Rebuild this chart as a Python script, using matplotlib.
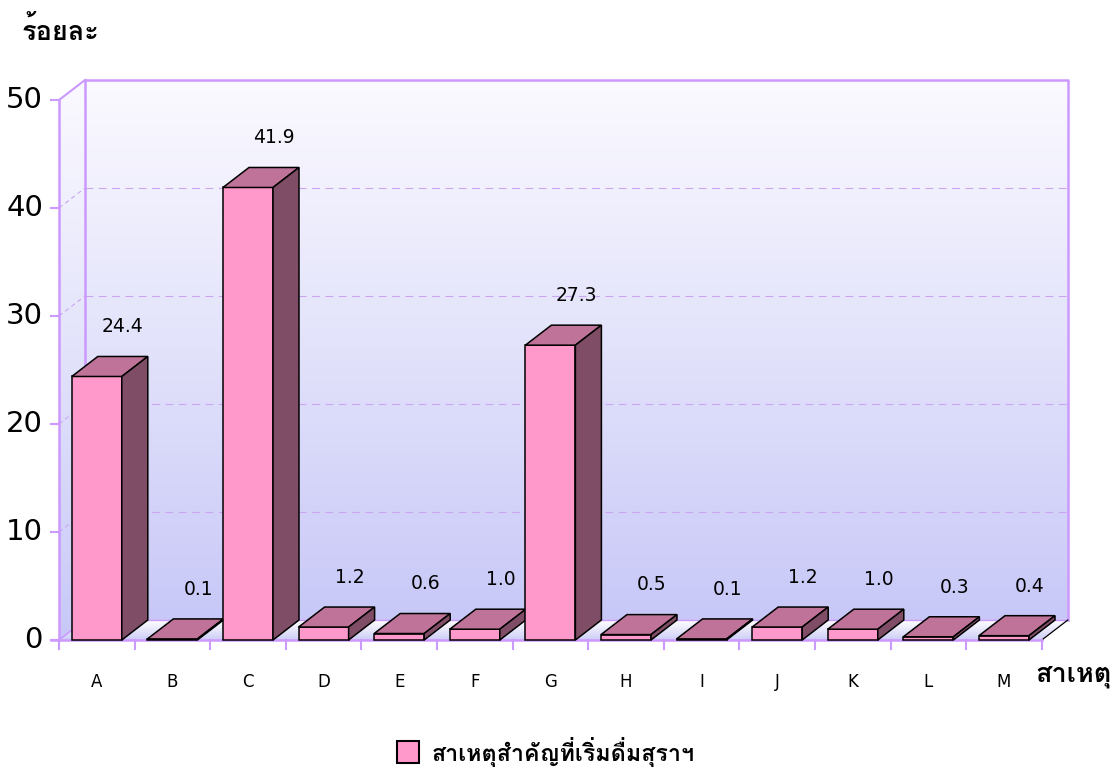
import matplotlib
matplotlib.use("Agg")
import matplotlib.pyplot as plt
from matplotlib import font_manager
from matplotlib.patches import Polygon, Rectangle
from matplotlib.colors import LinearSegmentedColormap
import numpy as np

# data
categories = ["A", "B", "C", "D", "E", "F", "G", "H", "I", "J", "K", "L", "M"]
values = [24.4, 0.1, 41.9, 1.2, 0.6, 1.0, 27.3, 0.5, 0.1, 1.2, 1.0, 0.3, 0.4]
y_ticks = [0, 10, 20, 30, 40, 50]
y_title = "ร้อยละ"
x_title = "สาเหตุ"
series_name = "สาเหตุสำคัญที่เริ่มดื่มสุราฯ"

# thai font (Loma keeps tone marks above the upper vowels without shaping)
names = {f.name for f in font_manager.fontManager.ttflist}
thai = "DejaVu Sans"
for n in ["Loma", "Sarabun", "Noto Sans Thai"]:
    if n in names:
        thai = n
        break
thai_family = [thai, "DejaVu Sans"]

# geometry (pixels of the 1118x773 picture)
W_PX, H_PX = 1118, 773
X0_PX, Y0_PX = 59, 640        # left end of front x axis, zero line
PX_X, PX_Y = 75.6, 10.8       # pixels per category / per percent
DX = 26 / PX_X                # depth offset in data units
DY = 20 / PX_Y
BAR_W = 50 / PX_X

front = "#ff99cc"
top_c = "#bf7399"
side_c = "#804d66"
wall_edge = "#cc99ff"
grid_c = "#c9a6f2"

fig = plt.figure(figsize=(W_PX / 100, H_PX / 100), dpi=100)
ax = fig.add_axes([0, 0, 1, 1])
xmin = -0.5 - X0_PX / PX_X
xmax = -0.5 + (W_PX - X0_PX) / PX_X
ymin = (Y0_PX - H_PX) / PX_Y
ymax = Y0_PX / PX_Y

n = len(categories)
left, right = -0.5, n - 0.5
ytop = y_ticks[-1]

wall_cmap = LinearSegmentedColormap.from_list("wall", ["#c8c8f8", "#e2e2fb", "#fbfaff"])
floor_cmap = LinearSegmentedColormap.from_list("floor", ["#cdcdf7", "#ffffff"])
grad = np.linspace(0, 1, 256).reshape(-1, 1)

# back wall
back = Polygon([(left + DX, DY), (right + DX, DY), (right + DX, ytop + DY), (left + DX, ytop + DY)],
               closed=True, facecolor="none", edgecolor="none")
ax.add_patch(back)
im = ax.imshow(grad, cmap=wall_cmap, extent=(left + DX, right + DX, DY, ytop + DY),
               origin="lower", aspect="auto", zorder=0)
im.set_clip_path(back)

# side wall
side = Polygon([(left, 0), (left + DX, DY), (left + DX, ytop + DY), (left, ytop)],
               closed=True, facecolor="none", edgecolor="none")
ax.add_patch(side)
im = ax.imshow(grad, cmap=wall_cmap, extent=(left, left + DX, 0, ytop + DY),
               origin="lower", aspect="auto", zorder=0)
im.set_clip_path(side)

# floor: white at the back, lavender at the front
floor = Polygon([(left, 0), (right, 0), (right + DX, DY), (left + DX, DY)],
                closed=True, facecolor="none", edgecolor="none")
ax.add_patch(floor)
im = ax.imshow(grad, cmap=floor_cmap, extent=(left, right + DX, 0, DY),
               origin="lower", aspect="auto", zorder=0)
im.set_clip_path(floor)

# grid lines on back and side wall
for t in y_ticks[1:-1]:
    ax.plot([left + DX, right + DX], [t + DY, t + DY], color=grid_c, lw=0.8,
            dashes=(7, 5), zorder=1)
    ax.plot([left, left + DX], [t, t + DY], color=grid_c, lw=0.8, dashes=(4, 3), zorder=1)

# wall outlines
ax.plot([left + DX, right + DX, right + DX], [ytop + DY, ytop + DY, DY], color=wall_edge, lw=1.8, zorder=1)
ax.plot([left + DX, left + DX], [DY, ytop + DY], color=wall_edge, lw=1.8, zorder=1)
ax.plot([left + DX, right + DX], [DY, DY], color=wall_edge, lw=1.0, zorder=1)
ax.plot([left, left + DX], [ytop, ytop + DY], color=wall_edge, lw=1.5, zorder=1)
ax.plot([left, left + DX], [0, DY], color=wall_edge, lw=1.2, zorder=1)
ax.plot([left, left], [0, ytop], color=wall_edge, lw=1.8, zorder=1)
ax.plot([left - 8 / PX_X, right], [0, 0], color=wall_edge, lw=1.8, zorder=1)
ax.plot([right, right + DX], [0, DY], color="black", lw=0.9, zorder=1)

# ticks
for t in y_ticks:
    ax.plot([left - 8 / PX_X, left], [t, t], color=wall_edge, lw=1.5, zorder=1)
    ax.text(left - 16 / PX_X, t, str(t), ha="right", va="center", fontsize=21)
for k in range(n + 1):
    ax.plot([left + k, left + k], [0, -9 / PX_Y], color=wall_edge, lw=1.5, zorder=1)

# bars
x = np.arange(n)
for i, v in enumerate(values):
    z = 3 + i * 0.01
    ax.bar(x[i], v, width=BAR_W, color=front, edgecolor="black", linewidth=1.1, zorder=z)
    xl, xr = x[i] - BAR_W / 2, x[i] + BAR_W / 2
    ax.add_patch(Polygon([(xl, v), (xr, v), (xr + DX, v + DY), (xl + DX, v + DY)], closed=True,
                         facecolor=top_c, edgecolor="black", linewidth=1.1, zorder=z))
    ax.add_patch(Polygon([(xr, 0), (xr + DX, DY), (xr + DX, v + DY), (xr, v)], closed=True,
                         facecolor=side_c, edgecolor="black", linewidth=1.1, zorder=z))
    ax.text(x[i] + DX, v + 4.6, f"{v:.1f}", ha="center", va="center", fontsize=13.5, zorder=5)
    ax.text(x[i], -42 / PX_Y, categories[i], ha="center", va="center", fontsize=12)

# titles
ax.text(xmin + 22 / PX_X, ymax - 31 / PX_Y, y_title, ha="left", va="center",
        fontsize=19.5, fontweight="bold", family=thai_family)
ax.text(xmin + 1035 / PX_X, ymax - 676 / PX_Y, x_title, ha="left", va="center",
        fontsize=19.5, fontweight="bold", family=thai_family)

# legend
ax.add_patch(Rectangle((xmin + 397 / PX_X, ymax - 763 / PX_Y), 22 / PX_X, 22 / PX_Y,
                       facecolor=front, edgecolor="black", linewidth=1.5, zorder=5))
ax.text(xmin + 432 / PX_X, ymax - 752 / PX_Y, series_name, ha="left", va="center",
        fontsize=16.8, fontweight="bold", family=thai_family)

ax.set_xlim(xmin, xmax)
ax.set_ylim(ymin, ymax)
ax.axis("off")
fig.savefig("out.png", dpi=100)
